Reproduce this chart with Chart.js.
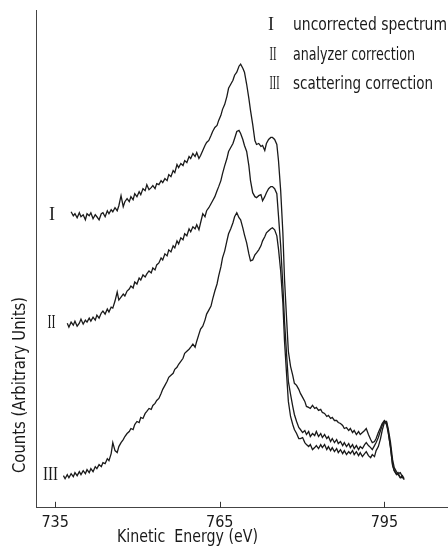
<!DOCTYPE html>
<html><head><meta charset="utf-8">
<script src="https://cdn.jsdelivr.net/npm/chart.js@4.4.1/dist/chart.umd.min.js"></script>
<style>html,body{margin:0;padding:0;background:#fff}</style>
</head><body>
<canvas id="c" width="448" height="554"></canvas>
<script>
// Kinetic energy grid (eV)
const energy = [
736.5,736.8,737.2,737.5,737.9,738.3,738.6,739.0,739.4,739.7,
740.1,740.5,740.8,741.2,741.5,741.9,742.3,742.6,743.0,743.4,
743.7,744.1,744.5,744.8,745.2,745.5,745.9,746.3,746.6,747.0,
747.4,747.7,748.1,748.5,748.8,749.2,749.5,749.9,750.3,750.6,
751.0,751.4,751.7,752.1,752.5,752.8,753.2,753.5,753.9,754.3,
754.6,755.0,755.4,755.7,756.1,756.5,756.8,757.2,757.5,757.9,
758.3,758.6,759.0,759.4,759.7,760.1,760.5,760.8,761.2,761.5,
761.9,762.3,762.6,763.0,763.4,763.7,764.1,764.5,764.8,765.2,
765.5,765.9,766.3,766.6,767.0,767.4,767.7,768.1,768.5,768.8,
769.2,769.5,769.9,770.3,770.6,771.0,771.4,771.7,772.1,772.5,
772.8,773.2,773.5,773.9,774.3,774.6,775.0,775.4,775.7,776.1,
776.5,776.8,777.2,777.5,777.9,778.3,778.6,779.0,779.4,779.7,
780.1,780.5,780.8,781.2,781.5,781.9,782.3,782.6,783.0,783.4,
783.7,784.1,784.5,784.8,785.2,785.5,785.9,786.3,786.6,787.0,
787.4,787.7,788.1,788.5,788.8,789.2,789.5,789.9,790.3,790.6,
791.0,791.4,791.7,792.1,792.5,792.8,793.2,793.5,793.9,794.3,
794.6,795.0,795.4,795.7,796.1,796.5,796.8,797.2,797.5,797.9,
798.3,798.6];

// I  uncorrected spectrum (arbitrary units, offset as plotted)
const countsI = [
null,null,null,null,295,291,293,289,294,290,
292,287,293,291,294,288,292,290,287,293,
294,290,296,293,297,295,299,296,301,311,
300,305,308,305,310,307,313,310,315,312,
318,316,322,317,319,321,318,323,322,326,
324,328,326,332,330,336,334,342,339,343,
341,346,344,350,348,353,350,354,348,351,
356,361,364,366,371,375,379,381,386,391,
397,402,410,418,422,426,431,434,440,442,
438,434,422,408,396,382,366,362,363,360,
361,356,363,367,369,369,367,362,346,316,
274,228,186,156,141,132,124,122,118,114,
110,106,101,100,99,102,99,100,97,98,
95,94,91,92,89,90,87,87,85,84,
82,79,80,77,79,75,77,73,76,73,
75,77,79,73,68,65,66,69,75,80,
84,87,85,76,61,42,37,34,33,30,
30,29];

// II analyzer correction
const countsII = [
null,null,184,180,185,182,186,181,184,188,
183,187,185,189,186,190,187,192,189,194,
196,193,198,195,200,199,206,215,207,210,
213,211,216,218,221,219,225,223,229,227,
232,230,233,236,234,239,237,242,244,249,
247,253,251,257,255,261,259,266,263,269,
267,273,271,278,275,280,278,282,277,284,
293,290,296,299,303,306,310,316,320,326,
333,341,348,355,359,363,368,375,376,373,
367,361,355,341,326,314,310,309,311,312,
306,310,314,318,320,320,318,313,291,261,
221,186,151,126,113,101,93,86,80,78,
75,77,73,76,71,74,72,76,71,74,
70,73,69,71,66,69,65,68,64,66,
62,65,61,64,60,63,59,62,58,61,
59,63,65,62,60,58,62,65,70,77,
82,86,83,75,61,43,37,33,35,30,
32,28];

// III scattering correction
const countsIII = [
32,29,33,30,34,31,35,32,36,33,
37,34,38,35,39,36,41,39,43,41,
45,44,49,47,54,65,57,55,61,65,
68,71,74,76,79,78,83,86,85,90,
89,94,96,99,98,102,104,107,109,114,
118,122,126,130,132,134,138,140,143,146,
149,154,156,158,160,163,160,166,173,178,
181,187,193,197,201,208,216,223,231,240,
249,256,266,273,278,284,290,294,289,287,
279,272,264,253,246,247,252,254,257,261,
266,270,274,276,278,279,277,271,258,236,
204,166,131,106,91,83,78,74,69,69,
70,65,63,61,63,58,60,62,59,63,
60,63,58,61,57,60,56,59,55,58,
54,57,53,56,54,57,53,56,52,55,
51,54,56,52,50,53,51,57,61,69,
77,85,86,79,66,48,40,36,34,35,
31,30];

const tickValues = [735, 765, 795];
const numerals = ['I', 'II', 'III'];
const seriesNames = ['uncorrected spectrum', 'analyzer correction', 'scattering correction'];
const xTitle = 'Kinetic  Energy (eV)';
const yTitle = 'Counts (Arbitrary Units)';

const SANS = '"Liberation Sans Narrow", "DejaVu Sans Condensed", "DejaVu Sans", sans-serif';
const SERIF = '"Liberation Serif", "DejaVu Serif", serif';
const INK = '#1a1a1a';

function toPoints(arr) { return energy.map((e, i) => ({ x: e, y: arr[i] })); }

// draw text; width = target width (horizontal squeeze), align 'left' | 'center'
function drawFit(ctx, text, x, y, font, width, rot, align) {
  ctx.save();
  ctx.font = font;
  const w = ctx.measureText(text).width;
  const s = width ? width / w : 1;
  ctx.translate(x, y);
  if (rot) ctx.rotate(rot);
  ctx.scale(s, 1);
  ctx.textAlign = 'left';
  ctx.textBaseline = 'alphabetic';
  const off = (rot || align === 'center') ? -w / 2 : 0;
  ctx.fillText(text, off, 0);
  ctx.restore();
}

const annot = {
  id: 'annot',
  afterDraw(chart) {
    const ctx = chart.ctx, xs = chart.scales.x, ys = chart.scales.y;
    ctx.save();
    ctx.strokeStyle = '#333';
    ctx.lineWidth = 1;
    tickValues.forEach(v => {
      const px = Math.round(xs.getPixelForValue(v)) + 0.5;
      ctx.beginPath(); ctx.moveTo(px, ys.bottom); ctx.lineTo(px, ys.bottom - 6); ctx.stroke();
    });
    ctx.fillStyle = INK;
    // legend
    const legBase = [30, 60, 89], legW = [154, 122, 140];
    const legNumX = [271, 273, 274.5], legNumW = [0, 7, 10];
    numerals.forEach((n, i) => {
      drawFit(ctx, n, legNumX[i], legBase[i], '18px ' + SERIF, legNumW[i], 0, 'center');
      drawFit(ctx, seriesNames[i], 293, legBase[i], '17px ' + SANS, legW[i]);
    });
    // curve labels
    const labX = [52, 51.5, 50.5], labY = [220, 328, 480], labW = [0, 8, 15];
    numerals.forEach((n, i) => {
      drawFit(ctx, n, labX[i], labY[i], '18px ' + SERIF, labW[i], 0, 'center');
    });
    // axis titles
    drawFit(ctx, xTitle, 117, 542, '17px ' + SANS, 141);
    drawFit(ctx, yTitle, 25, 385, '17px ' + SANS, 176, -Math.PI / 2);
    ctx.restore();
  }
};

const lineStyle = { borderColor: INK, borderWidth: 1.3, pointRadius: 0, tension: 0, fill: false };

new Chart(document.getElementById('c'), {
  type: 'line',
  data: {
    datasets: [
      Object.assign({ label: seriesNames[0], data: toPoints(countsI) }, lineStyle),
      Object.assign({ label: seriesNames[1], data: toPoints(countsII) }, lineStyle),
      Object.assign({ label: seriesNames[2], data: toPoints(countsIII) }, lineStyle)
    ]
  },
  options: {
    responsive: false,
    animation: false,
    devicePixelRatio: 1,
    layout: { padding: { left: 36, right: 0, top: 10, bottom: 17 } },
    plugins: { legend: { display: false }, tooltip: { enabled: false } },
    scales: {
      x: {
        type: 'linear', min: 731.5, max: 806.6,
        afterBuildTicks: s => { s.ticks = tickValues.map(v => ({ value: v })); },
        ticks: { color: INK, font: { family: SANS, size: 16 }, padding: 5, maxRotation: 0, autoSkip: false },
        grid: { display: true, drawOnChartArea: false, drawTicks: false },
        border: { display: true, color: '#444', width: 1 }
      },
      y: {
        min: 0, max: 496,
        ticks: { display: false },
        grid: { display: true, drawOnChartArea: false, drawTicks: false },
        border: { display: true, color: '#444', width: 1 }
      }
    }
  },
  plugins: [annot]
});
</script>
</body></html>
